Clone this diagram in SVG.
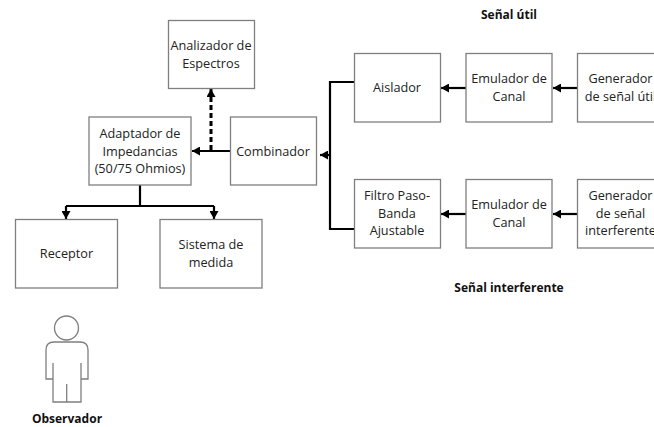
<svg xmlns="http://www.w3.org/2000/svg" width="654" height="427" viewBox="0 0 654 427">
<style>
.box{fill:#fff;stroke:#7f7f7f;stroke-width:1.3}
text{font-family:"Open Sans","Noto Sans","Liberation Sans",sans-serif;font-size:12.700px;fill:#222;text-anchor:middle}
.b{font-weight:700;font-size:12px;fill:#111}
.c{fill:none;stroke:#000;stroke-width:2.200}
.d{fill:none;stroke:#000;stroke-width:3;stroke-dasharray:5 3}
.p{fill:none;stroke:#7f7f7f;stroke-width:1.300}
</style>
<defs>
<marker id="a" markerUnits="userSpaceOnUse" markerWidth="8" markerHeight="9" refX="8" refY="4.500" orient="auto"><path d="M0 0L8 4.500L0 9Z" fill="#000"/></marker>
</defs>
<rect width="654" height="427" fill="#fff"/>
<g id="connectors">
<path class="c" d="M230 151H192" marker-end="url(#a)"/>
<path class="d" d="M211 150V89" marker-end="url(#a)"/>
<path class="c" d="M140 185V206"/>
<path class="c" d="M66 206H214"/>
<path class="c" d="M66 206V219" marker-end="url(#a)"/>
<path class="c" d="M214 206V219" marker-end="url(#a)"/>
<path class="c" d="M354 82H330V229H354"/>
<path class="c" d="M330 155H320" marker-end="url(#a)"/>
<path class="c" d="M466 88H441" marker-end="url(#a)"/>
<path class="c" d="M577 88H553" marker-end="url(#a)"/>
<path class="c" d="M466 214H441" marker-end="url(#a)"/>
<path class="c" d="M577 214H553" marker-end="url(#a)"/>
</g>
<g id="analizador"><rect class="box" x="168.500" y="20.500" width="86" height="68"/><text x="211" y="50">Analizador de</text><text x="211" y="68">Espectros</text></g>
<g id="adaptador"><rect class="box" x="89" y="117" width="102" height="68"/><text x="140" y="138">Adaptador de</text><text x="140" y="156">Impedancias</text><text x="140" y="173">(50/75 Ohmios)</text></g>
<g id="combinador"><rect class="box" x="230.500" y="117" width="86" height="68"/><text x="273" y="156">Combinador</text></g>
<g id="receptor"><rect class="box" x="15.500" y="219.500" width="102" height="68.500"/><text x="66.500" y="258">Receptor</text></g>
<g id="sistema"><rect class="box" x="160" y="219.500" width="102" height="68.500"/><text x="211" y="249">Sistema de</text><text x="211" y="267">medida</text></g>
<g id="aislador"><rect class="box" x="354.500" y="53.500" width="86" height="68.500"/><text x="397" y="92">Aislador</text></g>
<g id="emulador1"><rect class="box" x="466" y="53.500" width="86" height="68.500"/><text x="509" y="83">Emulador de</text><text x="509" y="101">Canal</text></g>
<g id="generador1"><rect class="box" x="577.500" y="53.500" width="86" height="68.500"/><text x="620.500" y="83">Generador</text><text x="620.500" y="101">de señal útil</text></g>
<g id="filtro"><rect class="box" x="354.500" y="179.500" width="86" height="68.500"/><text x="397" y="200">Filtro Paso-</text><text x="397" y="218">Banda</text><text x="397" y="235">Ajustable</text></g>
<g id="emulador2"><rect class="box" x="466" y="179.500" width="86" height="68.500"/><text x="509" y="209">Emulador de</text><text x="509" y="227">Canal</text></g>
<g id="generador2"><rect class="box" x="577.500" y="179.500" width="86" height="68.500"/><text x="620.500" y="200">Generador</text><text x="620.500" y="218">de señal</text><text x="620.500" y="235">interferente</text></g>
<text class="b" x="509" y="19">Señal útil</text>
<text class="b" x="509" y="292">Señal interferente</text>
<g id="observador">
<circle class="p" cx="66.500" cy="328" r="12"/>
<path class="p" d="M53 363V402H81V363M66.700 384V402M53 379H46V350Q46 342 54 342H80Q88 342 88 350V379H81"/>
<text class="b" x="67" y="423">Observador</text>
</g>
</svg>
